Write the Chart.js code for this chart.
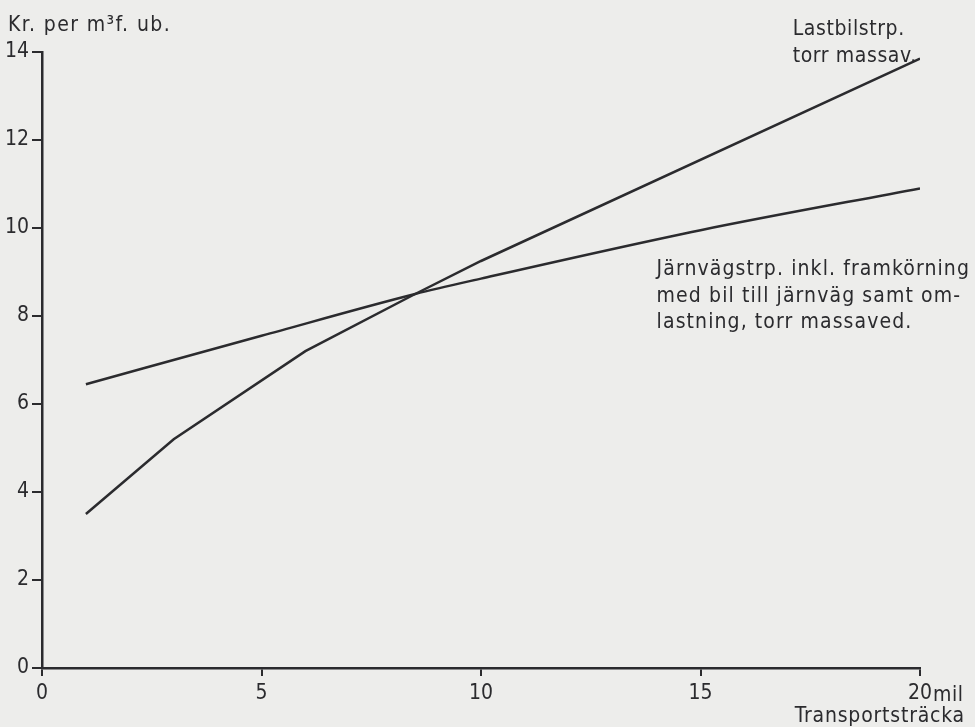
<!DOCTYPE html>
<html>
<head>
<meta charset="utf-8">
<script src="https://cdn.jsdelivr.net/npm/chart.js@4.4.1/dist/chart.umd.min.js"></script>
<style>
  html, body { margin: 0; padding: 0; background: #ededeb; }
  #wrap { width: 975px; height: 727px; position: relative; }
</style>
</head>
<body>
<div id="wrap"><canvas id="chart" width="975" height="727"></canvas></div>
<script>
// transport distance in mil, cost in kr per m3 f. ub.
const lastbilX = [1, 3, 6, 8.5, 10, 20];
const lastbilY = [3.5, 5.2, 7.2, 8.5, 9.25, 13.85];
const jarnvagX = [1, 5, 8.5, 10, 15, 20];
const jarnvagY = [6.45, 7.55, 8.5, 8.85, 9.95, 10.9];
const xTicks = [0, 5, 10, 15, 20];
const yTicks = [0, 2, 4, 6, 8, 10, 12, 14];

const ink = '#2b2b2e';
const font = '"DejaVu Sans Condensed", "Liberation Sans Narrow", "DejaVu Sans"';

function pts(xs, ys) {
  return xs.map((x, i) => ({ x: x, y: ys[i] }));
}

// free text on the sheet, drawn after the chart
const notes = {
  id: 'notes',
  afterDraw(chart) {
    const ctx = chart.ctx;
    const xs = chart.scales.x;
    ctx.save();
    ctx.fillStyle = ink;
    ctx.textBaseline = 'alphabetic';
    ctx.textAlign = 'left';
    ctx.font = '21px ' + font;
    ctx.letterSpacing = '1.4px';
    ctx.fillText('Kr. per m\u00b3f. ub.', 8, 31);

    ctx.letterSpacing = '0.6px';
    ctx.fillText('Lastbilstrp.', xs.getPixelForValue(17.1), 35);
    ctx.fillText('torr massav.', xs.getPixelForValue(17.1), 62);

    ctx.letterSpacing = '1.1px';
    const jx = xs.getPixelForValue(14.0);
    ctx.fillText('J\u00e4rnv\u00e4gstrp. inkl. framk\u00f6rning', jx, 275);
    ctx.fillText('med bil till j\u00e4rnv\u00e4g samt om-', jx, 302);
    ctx.fillText('lastning, torr massaved.', jx, 328);

    ctx.letterSpacing = '0.5px';
    ctx.fillText('mil', xs.getPixelForValue(20) + 13, 701);
    ctx.textAlign = 'right';
    ctx.letterSpacing = '0.8px';
    ctx.fillText('Transportstr\u00e4cka', 965, 722);
    ctx.restore();
  }
};

new Chart(document.getElementById('chart'), {
  type: 'line',
  data: {
    datasets: [
      {
        label: 'Lastbilstrp. torr massaved',
        data: pts(lastbilX, lastbilY),
        borderColor: ink,
        borderWidth: 2.5,
        pointRadius: 0,
        tension: 0,
        fill: false
      },
      {
        label: 'Järnvägstrp. inkl. framkörning',
        data: pts(jarnvagX, jarnvagY),
        borderColor: ink,
        borderWidth: 2.5,
        pointRadius: 0,
        cubicInterpolationMode: 'monotone',
        fill: false
      }
    ]
  },
  options: {
    responsive: false,
    animation: false,
    layout: { padding: { top: 52, right: 55, left: 0, bottom: 0 } },
    plugins: { legend: { display: false }, tooltip: { enabled: false } },
    scales: {
      x: {
        type: 'linear',
        min: 0,
        max: 20,
        afterBuildTicks: s => { s.ticks = xTicks.map(v => ({ value: v })); },
        afterFit: s => { s.height = 59; },
        border: { display: true, color: ink, width: 2.5 },
        grid: { drawOnChartArea: false, drawTicks: true, tickLength: 8, color: ink, lineWidth: 2 },
        ticks: {
          color: ink,
          font: { family: font, size: 21 },
          padding: 5,
          maxRotation: 0
        }
      },
      y: {
        type: 'linear',
        min: 0,
        max: 14,
        afterBuildTicks: s => { s.ticks = yTicks.map(v => ({ value: v })); },
        afterFit: s => { s.width = 42; },
        border: { display: true, color: ink, width: 2.5 },
        grid: { drawOnChartArea: false, drawTicks: true, tickLength: 10, color: ink, lineWidth: 2 },
        ticks: {
          color: ink,
          font: { family: font, size: 21 },
          padding: 3
        }
      }
    }
  },
  plugins: [notes]
});
</script>
</body>
</html>
